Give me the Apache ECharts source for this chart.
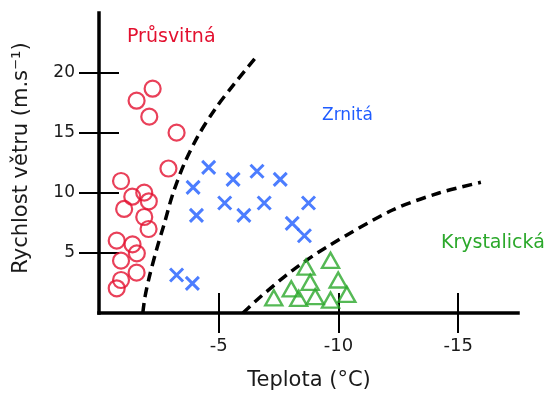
<!DOCTYPE html>
<html>
<head>
<meta charset="utf-8">
<script src="https://cdn.jsdelivr.net/npm/echarts@6/dist/echarts.min.js"></script>
<style>
html,body{margin:0;padding:0;background:#fff;}
#chart{width:545px;height:393px;}
</style>
</head>
<body>
<div id="chart"></div>
<script>
// Temperature (°C) and wind speed (m/s) readings
const pruvitnaTemp = [-2.24,-1.57,-2.10,-3.24,-2.90,-0.92,-1.39,-1.89,-2.08,-1.05,-1.89,-2.07,-0.74,-1.40,-1.58,-0.92,-1.57,-0.92,-0.74];
const pruvitnaWind = [18.69,17.69,16.36,15.03,12.04,11.0,9.69,10.03,9.31,8.67,8.0,7.0,6.03,5.72,4.97,4.36,3.36,2.75,2.06];

const zrnitaTemp = [-4.58,-3.93,-5.60,-6.60,-7.57,-5.25,-6.90,-8.75,-4.07,-6.05,-8.07,-8.58,-3.24,-3.90];
const zrnitaWind = [12.14,10.47,11.14,11.81,11.14,9.17,9.17,9.17,8.14,8.14,7.47,6.44,3.17,2.47];

const krystTemp = [-7.30,-8.03,-8.34,-8.65,-8.82,-9.03,-9.67,-9.99,-9.67,-10.35];
const krystWind = [1.27,2.02,1.22,3.83,2.56,1.36,4.39,2.75,1.08,1.56];

// Dashed boundary curves
const boundary1Temp = [-1.83,-1.92,-2.1,-2.4,-2.72,-3.08,-3.55,-4.15,-4.85,-5.65,-6.63];
const boundary1Wind = [0,1.33,3.0,5.25,7.4,9.9,12.4,14.8,17.0,19.1,21.5];
const boundary2Temp = [-6.01,-6.71,-8.1,-9.54,-12.26,-14.2,-15.95];
const boundary2Wind = [0,1.29,3.58,5.53,8.58,10.0,10.89];

const xTicks = [-5,-10,-15];
const yTicks = [5,10,15,20];

const zip = (a,b) => a.map((v,i)=>[v,b[i]]);

const RED = '#e3102f', BLUE = '#1f5cff', GREEN = '#2ba82b';
const FONT = 'DejaVu Sans';

const chart = echarts.init(document.getElementById('chart'), null, {renderer:'canvas'});

const axisLine = {show:true, lineStyle:{color:'#000', width:3.5, cap:'square'}};
const noSplit = {show:false};

chart.setOption({
  animation:false,
  backgroundColor:'#fff',
  textStyle:{fontFamily:FONT},
  grid:{left:99, right:27, top:13, bottom:80, containLabel:false},
  xAxis:[
    {type:'value', inverse:true, min:-17.5, max:0, position:'bottom',
     axisLine:axisLine, splitLine:noSplit,
     axisTick:{show:true, inside:false, length:20, customValues:xTicks, lineStyle:{color:'#000', width:2}},
     axisLabel:{show:true, customValues:xTicks, margin:24, fontFamily:FONT, fontSize:18, color:'#1a1a1a'}},
    {type:'value', inverse:true, min:-17.5, max:0, position:'bottom',
     axisLine:{show:false}, splitLine:noSplit, axisLabel:{show:false},
     axisTick:{show:true, inside:true, length:20, customValues:xTicks, lineStyle:{color:'#000', width:2}}}
  ],
  yAxis:[
    {type:'value', min:0, max:25, position:'left',
     axisLine:axisLine, splitLine:noSplit,
     axisTick:{show:true, inside:false, length:20, customValues:yTicks, lineStyle:{color:'#000', width:2}},
     axisLabel:{show:true, customValues:yTicks, margin:24, fontFamily:FONT, fontSize:17, color:'#1a1a1a'}},
    {type:'value', min:0, max:25, position:'left',
     axisLine:{show:false}, splitLine:noSplit, axisLabel:{show:false},
     axisTick:{show:true, inside:true, length:20, customValues:yTicks, lineStyle:{color:'#000', width:2}}}
  ],
  series:[
    {type:'line', data:zip(boundary1Temp,boundary1Wind), smooth:0.3, symbol:'none',
     lineStyle:{color:'#000', width:3.5, type:[10,6]}, z:1},
    {type:'line', data:zip(boundary2Temp,boundary2Wind), smooth:0.3, symbol:'none',
     lineStyle:{color:'#000', width:3.5, type:[10,6]}, z:1},
    {type:'scatter', data:zip(pruvitnaTemp,pruvitnaWind), symbol:'circle', symbolSize:16,
     itemStyle:{color:'rgba(0,0,0,0)', borderColor:RED, borderWidth:2.2}, z:3},
    {type:'scatter', data:zip(zrnitaTemp,zrnitaWind), symbol:'path://M0,0L10,10M10,0L0,10', symbolSize:13,
     itemStyle:{color:'rgba(0,0,0,0)', borderColor:BLUE, borderWidth:3}, z:3},
    {type:'scatter', data:zip(krystTemp,krystWind), symbol:'triangle', symbolSize:[17,15],
     itemStyle:{color:'rgba(0,0,0,0)', borderColor:GREEN, borderWidth:2.4}, z:3}
  ],
  graphic:[
    {type:'text', left:127, top:28, style:{text:'Průsvitná', fill:RED, font:'19px "DejaVu Sans"'}},
    {type:'text', left:322, top:107, style:{text:'Zrnitá', fill:BLUE, font:'17px "DejaVu Sans"'}},
    {type:'text', left:441, top:234, style:{text:'Krystalická', fill:GREEN, font:'19px "DejaVu Sans"'}},
    {type:'text', x:309, y:381, style:{text:'Teplota (°C)', fill:'#1a1a1a', font:'21px "DejaVu Sans"', align:'center', verticalAlign:'middle'}},
    {type:'text', x:22, y:158, rotation:Math.PI/2, style:{text:'Rychlost větru (m.s⁻¹)', fill:'#1a1a1a', font:'21px "DejaVu Sans"', align:'center', verticalAlign:'middle'}}
  ]
});
</script>
</body>
</html>
